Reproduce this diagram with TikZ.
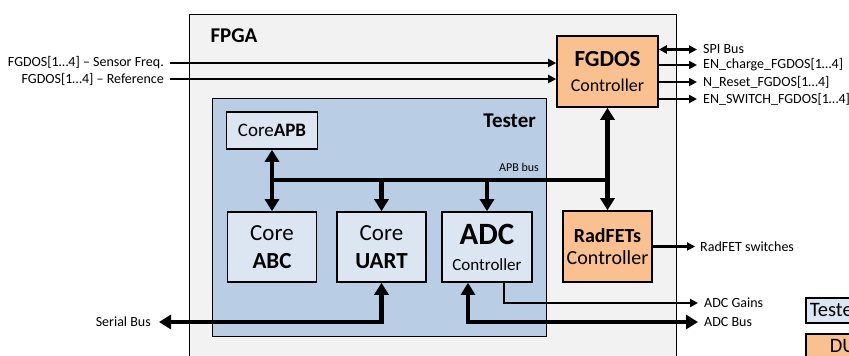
\documentclass[tikz,border=0pt]{standalone}
\usepackage{fontspec}
\setmainfont{Carlito}
\usepackage{tikz}
\usetikzlibrary{arrows.meta}
\definecolor{fpgagray}{HTML}{F2F2F2}
\definecolor{testerblue}{HTML}{B9CDE5}
\definecolor{coreblue}{HTML}{DCE6F2}
\definecolor{ctrlorange}{HTML}{FAC090}
\tikzstyle{block}=[draw,line width=1.6pt,fill=coreblue,align=center,inner sep=0pt,minimum width=89pt,minimum height=70pt]
\tikzstyle{ctrl}=[block,fill=ctrlorange]
\tikzstyle{sig}=[inner sep=0pt,font=\fontsize{14}{16}\selectfont]
\tikzstyle{bus}=[draw,line width=4.5pt,line join=miter]
\tikzstyle{wire}=[draw,line width=2.2pt]
\tikzstyle{bigtip}=[{Triangle[width=14pt,length=12pt]}-{Triangle[width=14pt,length=12pt]}]
\tikzstyle{bighead}=[-{Triangle[width=14pt,length=12pt]}]
\tikzstyle{head}=[-{Triangle[width=8pt,length=8pt]}]

\begin{document}
\begin{tikzpicture}[x=1pt,y=-1pt]
    \useasboundingbox (0,0) rectangle (849,356);
    \clip (0,0) rectangle (849,356);
    % First we draw the containers
    \node[draw,line width=1.3pt,fill=fpgagray,minimum width=487pt,minimum height=380pt,anchor=north west,inner sep=0pt] (fpga) at (189,14) {};
    \node[anchor=base west,font=\fontsize{21}{24}\selectfont\bfseries] (fpgatitle) at (207,42) {FPGA};
    \node[draw,line width=1.3pt,fill=testerblue,minimum width=334pt,minimum height=238pt,anchor=north west,inner sep=0pt] (tester) at (212,98) {};
    \node[anchor=base east,font=\fontsize{21}{24}\selectfont\bfseries,inner sep=0pt] (testertitle) at (536,127) {Tester};
    \node[anchor=base east,font=\fontsize{12}{14}\selectfont,inner sep=0pt] (apblabel) at (539,171) {APB bus};
    % Then the blocks
    \node[block,minimum width=91pt,minimum height=37pt,font=\fontsize{19}{22}\selectfont] (apb) at (272,130.5) {Core\textbf{APB}};
    \node[block,font=\fontsize{23}{28}\selectfont] (abc) at (272,247) {Core\\\textbf{ABC}};
    \node[block,font=\fontsize{23}{28}\selectfont] (uart) at (381.5,247) {Core\\\textbf{UART}};
    \node[block,minimum width=90pt,font=\fontsize{17}{26}\selectfont] (adc) at (487,247) {{\fontsize{31}{31}\selectfont\bfseries ADC}\\Controller};
    \node[ctrl,minimum width=101pt,minimum height=71pt,font=\fontsize{18}{25}\selectfont] (fgdos) at (607.5,71.5) {{\fontsize{23}{25}\selectfont\bfseries FGDOS}\\Controller};
    \node[ctrl,minimum height=71pt,font=\fontsize{20}{22}\selectfont] (radfet) at (607.5,246.5) {\textbf{RadFETs}\\Controller};
    % Legend boxes (cut by the border)
    \node[draw,line width=1.6pt,fill=coreblue,anchor=north west,minimum height=25pt,inner xsep=4pt,inner ysep=0pt,font=\fontsize{20.5}{22}\selectfont] (legtester) at (805,297) {Tester};
    \node[draw,line width=1.6pt,fill=ctrlorange,anchor=north west,minimum height=25pt,inner xsep=24pt,inner ysep=0pt,font=\fontsize{20.5}{22}\selectfont] (legdut) at (805,333) {DUT};
    % APB bus
    \coordinate (busl) at (272,180);
    \coordinate (busr) at (607.5,180);
    \path[bus] (busl) -- (busr);
    \path[bus,bigtip] (apb.south) -- (abc.north);
    \foreach \dest in {uart, adc}
        \path[bus,bighead] (\dest.north |- busl) -- (\dest.north);
    \path[bus,bigtip] (fgdos.south) -- (radfet.north);
    % FGDOS inputs
    \foreach \y/\name/\txt in {63/insf/Sensor Freq., 79/inref/Reference}
    {
        \node[sig,anchor=east] (\name) at (164,\y) {FGDOS[1…4] – \txt};
        \path[wire,head] ([xshift=6pt]\name.east) -- (\name.east -| fgdos.west);
    }
    % FGDOS outputs
    \node[sig,anchor=west] (spi) at (703,49.5) {SPI Bus};
    \path[wire,{Triangle[width=8pt,length=8pt]}-{Triangle[width=8pt,length=8pt]}] (spi.west -| fgdos.east) -- ([xshift=-6pt]spi.west);
    \foreach \y/\name/\txt in {65/encharge/EN\_charge\_FGDOS[1…4], 82/nreset/N\_Reset\_FGDOS[1…4], 99/enswitch/EN\_SWITCH\_FGDOS[1…4]}
    {
        \node[sig,anchor=west] (\name) at (703,\y) {\txt};
        \path[wire,head] (\name.west -| fgdos.east) -- ([xshift=-6pt]\name.west);
    }
    % RadFET and ADC outputs
    \node[sig,anchor=west] (rsw) at (700,246.5) {RadFET switches};
    \path[wire,head] (radfet.east) -- ([xshift=-5pt]rsw.west);
    \node[sig,anchor=west] (gains) at (704,303) {ADC Gains};
    \path[wire,head] ([xshift=17pt]adc.south) |- ([xshift=-6pt]gains.west);
    \node[sig,anchor=west] (adcbus) at (704,322) {ADC Bus};
    \path[bus,bigtip] ([xshift=-19pt]adc.south) |- ([xshift=-6pt]adcbus.west);
    \node[sig,anchor=east] (serial) at (151,322) {Serial Bus};
    \path[bus,bigtip] (uart.south) |- ([xshift=8pt]serial.east);
\end{tikzpicture}
\end{document}
